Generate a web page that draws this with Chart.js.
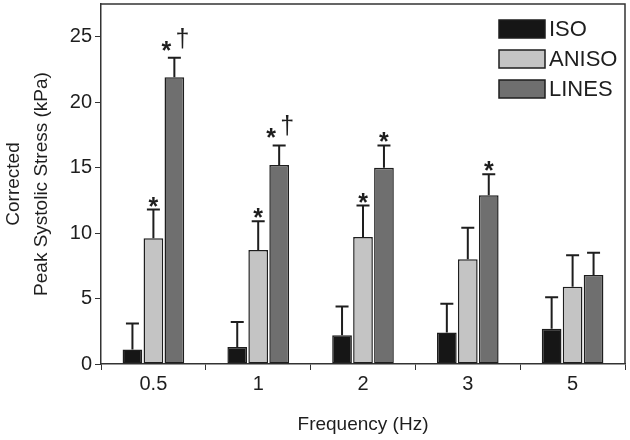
<!DOCTYPE html>
<html>
<head>
<meta charset="utf-8">
<script src="https://cdn.jsdelivr.net/npm/chart.js@4.4.1/dist/chart.umd.min.js"></script>
<style>
  html, body { margin: 0; padding: 0; background: #fff; }
  #wrap { width: 630px; height: 440px; }
</style>
</head>
<body>
<div id="wrap"><canvas id="myChart" width="630" height="440"></canvas></div>
<script>
// data
var categories = ['0.5', '1', '2', '3', '5'];
var isoMeans   = [1.1, 1.3, 2.2, 2.4, 2.7];
var isoErr     = [2.0, 1.9, 2.2, 2.2, 2.4];
var anisoMeans = [9.6, 8.7, 9.7, 8.0, 5.9];
var anisoErr   = [2.2, 2.2, 2.4, 2.4, 2.4];
var linesMeans = [21.9, 15.2, 15.0, 12.9, 6.8];
var linesErr   = [1.5, 1.5, 1.7, 1.6, 1.7];
var anisoMarks = ['*', '*', '*', '', ''];
var linesMarks = ['*\u2020', '*\u2020', '*', '*', ''];
var yTicks     = [0, 5, 10, 15, 20, 25];

var FONT = 'Liberation Sans, Arial, sans-serif';
var INK = '#1e1e1e';

// error bars (upward only) + significance marks
var errorBars = {
    id: 'errorBars',
    afterDatasetsDraw: function(chart) {
        var ctx = chart.ctx;
        var y = chart.scales.y;
        ctx.save();
        chart.data.datasets.forEach(function(ds, i) {
            var meta = chart.getDatasetMeta(i);
            meta.data.forEach(function(bar, j) {
                var top = y.getPixelForValue(ds.data[j] + ds.err[j]);
                ctx.strokeStyle = INK;
                ctx.lineWidth = 2;
                ctx.beginPath();
                ctx.moveTo(bar.x, bar.y);
                ctx.lineTo(bar.x, top);
                ctx.moveTo(bar.x - 6.5, top);
                ctx.lineTo(bar.x + 6.5, top);
                ctx.stroke();
                var m = ds.marks ? ds.marks[j] : '';
                if (!m) return;
                ctx.fillStyle = INK;
                ctx.textAlign = 'center';
                ctx.textBaseline = 'alphabetic';
                if (m.length === 1) {
                    ctx.font = 'bold 25px ' + FONT;
                    ctx.fillText('*', bar.x, top + 5);
                } else {
                    ctx.font = 'bold 25px ' + FONT;
                    ctx.fillText('*', bar.x - 8, top + 1);
                    ctx.font = '25px ' + FONT;
                    ctx.fillText('\u2020', bar.x + 8, top - 11);
                }
            });
        });
        ctx.restore();
    }
};

// box round the plot + legend in the upper right
var frameAndLegend = {
    id: 'frameAndLegend',
    afterDraw: function(chart) {
        var ctx = chart.ctx;
        var a = chart.chartArea;
        ctx.save();
        ctx.strokeStyle = '#333';
        ctx.lineWidth = 1.5;
        ctx.beginPath();
        ctx.moveTo(a.left, a.top);
        ctx.lineTo(a.right, a.top);
        ctx.lineTo(a.right, a.bottom);
        ctx.stroke();

        var lx = a.right - 126;
        chart.data.datasets.forEach(function(ds, i) {
            var ly = a.top + 16 + i * 30;
            ctx.fillStyle = ds.backgroundColor;
            ctx.fillRect(lx, ly, 46, 18);
            ctx.strokeStyle = INK;
            ctx.lineWidth = 1.5;
            ctx.strokeRect(lx, ly, 46, 18);
            ctx.fillStyle = INK;
            ctx.font = '22px ' + FONT;
            ctx.textAlign = 'left';
            ctx.textBaseline = 'middle';
            ctx.fillText(ds.label, lx + 50, ly + 10);
        });
        ctx.restore();
    }
};

function makeSet(label, data, err, marks, color) {
    return {
        label: label,
        data: data,
        err: err,
        marks: marks,
        backgroundColor: color,
        borderColor: INK,
        borderWidth: 1.5,
        borderSkipped: false,
        categoryPercentage: 0.6,
        barPercentage: 0.94
    };
}

var myChart = document.getElementById('myChart').getContext('2d');
var stressChart = new Chart(myChart, {
    type: 'bar',
    data: {
        labels: categories,
        datasets: [
            makeSet('ISO', isoMeans, isoErr, null, '#161616'),
            makeSet('ANISO', anisoMeans, anisoErr, anisoMarks, '#c4c4c4'),
            makeSet('LINES', linesMeans, linesErr, linesMarks, '#6f6f6f')
        ]
    },
    options: {
        responsive: false,
        animation: false,
        layout: { padding: { top: 4, right: 5, left: 0, bottom: 0 } },
        plugins: {
            legend: { display: false },
            tooltip: { enabled: false }
        },
        scales: {
            x: {
                grid: { display: true, drawOnChartArea: false, tickLength: 6, color: '#333', lineWidth: 1 },
                border: { color: '#333', width: 1.5 },
                ticks: { color: INK, font: { family: FONT, size: 20 }, padding: 2 },
                title: {
                    display: true, text: 'Frequency (Hz)', color: INK,
                    font: { family: FONT, size: 19 }, padding: { top: 8 }
                },
                afterFit: function(scale) { scale.height = 76; }
            },
            y: {
                min: 0,
                max: 27.5,
                grid: { display: true, drawOnChartArea: false, tickLength: 6, color: '#333', lineWidth: 1 },
                border: { color: '#333', width: 1.5 },
                afterBuildTicks: function(scale) {
                    scale.ticks = yTicks.map(function(v) { return { value: v }; });
                },
                ticks: { color: INK, font: { family: FONT, size: 20 }, padding: 3 },
                title: {
                    display: true, text: ['Corrected', 'Peak Systolic Stress (kPa)'], color: INK,
                    font: { family: FONT, size: 19, lineHeight: 1.45 }, padding: { top: 0, bottom: 4 }
                },
                afterFit: function(scale) {
                    scale.width = 101;
                    scale.paddingTop = 0;
                }
            }
        }
    },
    plugins: [errorBars, frameAndLegend]
});
</script>
</body>
</html>
